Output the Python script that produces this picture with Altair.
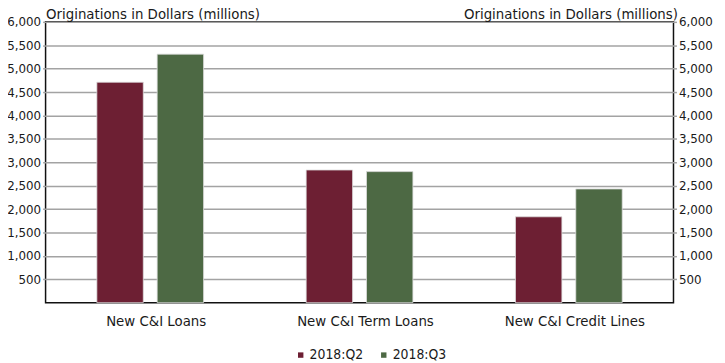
import altair as alt
import pandas as pd

categories = ["New C&I Loans", "New C&I Term Loans", "New C&I Credit Lines"]
series = ["2018:Q2", "2018:Q3"]
q2_values = [4710, 2835, 1835]
q3_values = [5310, 2800, 2430]
y_ticks = [500, 1000, 1500, 2000, 2500, 3000, 3500, 4000, 4500, 5000, 5500, 6000]

rows = []
for c, a, b in zip(categories, q2_values, q3_values):
    rows.append({"category": c, "quarter": series[0], "value": a})
    rows.append({"category": c, "quarter": series[1], "value": b})
df = pd.DataFrame(rows)

FONT = "DejaVu Sans"
FONT_C = "DejaVu Sans Condensed"
TXT = "#1a1a1a"
GRID = "#a3a3a3"
colors = ["#6D1F33", "#4D6944"]

x_enc = alt.X(
    "category:N",
    sort=categories,
    scale=alt.Scale(paddingInner=0.49, paddingOuter=0.245),
    axis=alt.Axis(title=None, labelAngle=0, labelFontSize=13.5, labelColor=TXT,
                  labelPadding=6, translate=6.5, ticks=False, domain=False,
                  labelFont=FONT),
)
xoff = alt.XOffset("quarter:N", sort=series,
                   scale=alt.Scale(paddingInner=0.23, paddingOuter=0))

title = "Originations in Dollars (millions)"

def yaxis(orient, align, grid, tx):
    return alt.Axis(orient=orient, values=y_ticks, format=",.0f", title=title,
                    titleAngle=0, titleX=tx, titleY=-3, titleAlign=align,
                    titleBaseline="alphabetic", titleFontSize=13.5,
                    titleFontWeight="normal", titleFont=FONT, titleColor=TXT,
                    labelFontSize=12, labelFont=FONT, labelColor=TXT,
                    ticks=True, tickSize=3, tickColor=GRID, tickWidth=1.5,
                    domain=False, labelPadding=2,
                    grid=grid, gridColor=GRID, gridWidth=1.5)

left = alt.Chart(df).mark_bar(stroke="#dedede", strokeWidth=0.8).encode(
    x=x_enc,
    xOffset=xoff,
    y=alt.Y("value:Q", scale=alt.Scale(domain=[0, 6000], nice=False),
            axis=yaxis("left", "left", True, 0)),
    color=alt.Color("quarter:N", sort=series,
                    scale=alt.Scale(domain=series, range=colors),
                    legend=alt.Legend(title=None, orient="none", direction="horizontal",
                                      legendX=251, legendY=330, padding=0,
                                      symbolType="square", symbolSize=30,
                                      symbolStrokeWidth=0,
                                      labelFontSize=14, labelFont=FONT_C,
                                      labelColor=TXT, columnPadding=13,
                                      labelOffset=2)),
)

right = alt.Chart(df).mark_bar(opacity=0).encode(
    x=x_enc,
    xOffset=xoff,
    y=alt.Y("value:Q", scale=alt.Scale(domain=[0, 6000], nice=False),
            axis=yaxis("right", "right", False, 4)),
)

chart = alt.layer(left, right).resolve_scale(y="independent").properties(
    width=635, height=284,
    autosize=alt.AutoSizeParams(type="none"),
    padding={"left": 38, "top": 12, "right": 44, "bottom": 59},
).configure_view(stroke="#111", strokeWidth=1.5)

chart.save("out.html", embed_options={"renderer": "svg", "actions": False})
